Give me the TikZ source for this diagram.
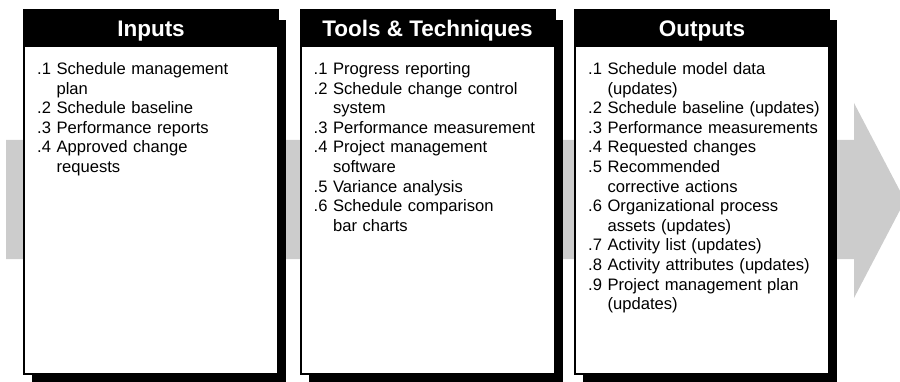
\documentclass[tikz,border=0pt]{standalone}
\usepackage{fontspec}
\setmainfont{Liberation Sans}
\usetikzlibrary{positioning,shadows}
\definecolor{band}{HTML}{CCCCCC}
\definecolor{ink}{HTML}{000000}
\tikzset{
  panel/.style={draw=ink,line width=2pt,fill=white,minimum width=254pt,minimum height=364pt,inner sep=0pt,outer sep=0pt,
    drop shadow={shadow xshift=8pt,shadow yshift=-10pt,opacity=1,fill=ink}},
  head/.style={fill=ink,text=white,minimum width=254pt,minimum height=37pt,inner sep=0pt,outer sep=0pt,
    text height=16pt,text depth=0pt,font=\fontsize{22.5}{27}\selectfont\bfseries},
  items/.style={text width=238pt,align=left,inner sep=0pt,text=ink,font=\fontsize{16.6}{19.6}\selectfont},
}
\newcommand{\ctd}{\phantom{.0}\ }

\begin{document}
\begin{tikzpicture}[x=1pt,y=1pt]
\useasboundingbox (0,0) rectangle (900,381);

% flow band behind the panels
\fill[band] (6,122) -- (854,122) -- (854,83) -- (905,180.5) -- (854,278) -- (854,241) -- (6,241) -- cycle;

% inputs
\node[panel] (inbox) at (151,189) {};
\node[head,anchor=north] (inhead) at (inbox.north) {Inputs};
\node[items,anchor=base west,xshift=13pt,yshift=-64.5pt] (inlist) at (inbox.north west)
{.1 Schedule management\\\ctd plan\\
.2 Schedule baseline\\
.3 Performance reports\\
.4 Approved change\\\ctd requests};

% tools and techniques
\node[panel] (toolbox) at (427.5,189) {};
\node[head,anchor=north] (toolhead) at (toolbox.north) {Tools \& Techniques};
\node[items,anchor=base west,xshift=13pt,yshift=-64.5pt] (toollist) at (toolbox.north west)
{.1 Progress reporting\\
.2 Schedule change control\\\ctd system\\
.3 Performance measurement\\
.4 Project management\\\ctd software\\
.5 Variance analysis\\
.6 Schedule comparison\\\ctd bar charts};

% outputs
\node[panel] (outbox) at (702,189) {};
\node[head,anchor=north] (outhead) at (outbox.north) {Outputs};
\node[items,anchor=base west,xshift=13pt,yshift=-64.5pt] (outlist) at (outbox.north west)
{.1 Schedule model data\\\ctd (updates)\\
.2 Schedule baseline (updates)\\
.3 Performance measurements\\
.4 Requested changes\\
.5 Recommended\\\ctd corrective actions\\
.6 Organizational process\\\ctd assets (updates)\\
.7 Activity list (updates)\\
.8 Activity attributes (updates)\\
.9 Project management plan\\\ctd (updates)};

\end{tikzpicture}
\end{document}
